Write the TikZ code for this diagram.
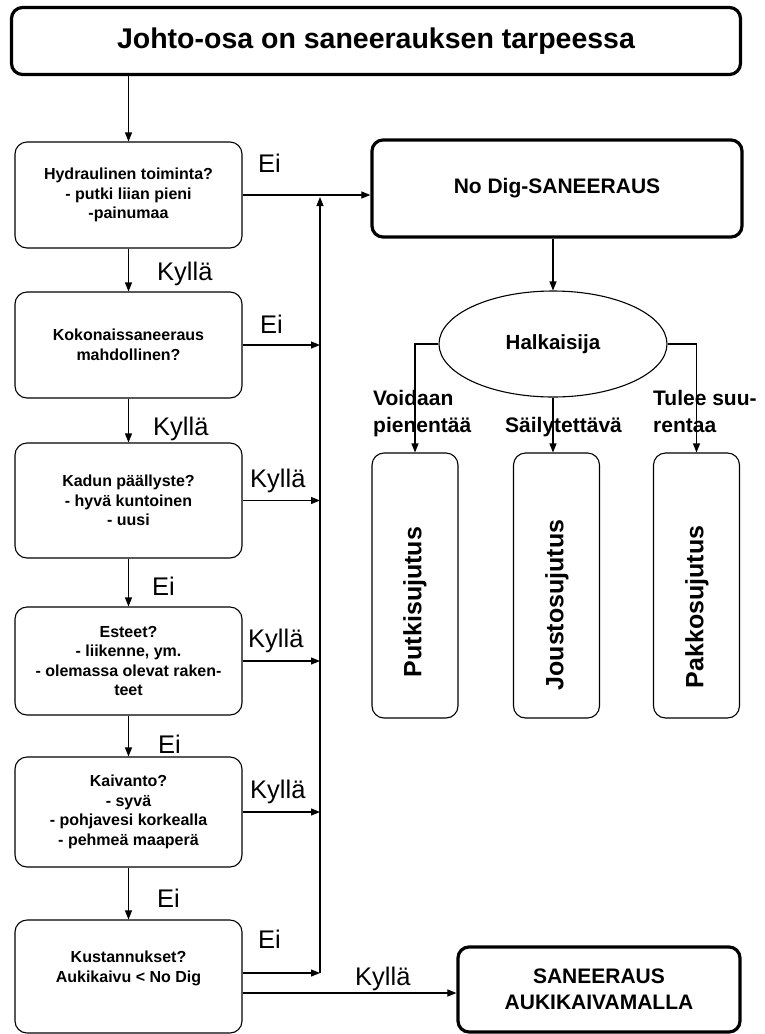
\documentclass[tikz,border=0pt]{standalone}
\usepackage{fontspec}
\setmainfont{Liberation Sans}
\usetikzlibrary{arrows.meta,shapes.geometric}

\begin{document}
\begin{tikzpicture}[x=1pt,y=-1pt,
  >={Triangle[length=9pt,width=7pt]},
  conn/.style={line width=1.1pt,->},
  qbox/.style={draw,line width=1.1pt,rounded corners=12pt,minimum width=227pt,
    align=center,inner sep=0pt,font=\fontsize{16}{19.5}\selectfont\bfseries},
  mainbox/.style={draw,line width=3.2pt,rounded corners=11pt,align=center,
    inner sep=0pt,font=\fontsize{21}{26}\selectfont\bfseries},
  tallbox/.style={draw,line width=1.1pt,rounded corners=12pt,
    minimum width=86pt,minimum height=265pt},
  ylab/.style={anchor=base west,inner sep=0pt,font=\fontsize{25.5}{30}\selectfont},
  blab/.style={anchor=base west,inner sep=0pt,font=\fontsize{21}{27}\selectfont\bfseries},
  vlab/.style={rotate=90,inner sep=0pt,font=\fontsize{25}{30}\selectfont\bfseries}
]
\useasboundingbox (0,0) rectangle (764,1034);

% top box
\node[mainbox,minimum width=729pt,minimum height=67pt,
  font=\fontsize{28.5}{34}\selectfont\bfseries] (title) at (376,41)
  {Johto-osa on saneerauksen tarpeessa};

% decision column
\node[qbox,minimum height=106pt] (b1) at (128.5,195)
  {Hydraulinen toiminta?\\- putki liian pieni\\-painumaa};
\node[qbox,minimum height=106pt] (b2) at (128.5,345)
  {Kokonaissaneeraus\\mahdollinen?};
\node[qbox,minimum height=115pt] (b3) at (128.5,500.5)
  {Kadun päällyste?\\- hyvä kuntoinen\\- uusi};
\node[qbox,minimum height=108pt] (b4) at (128.5,661)
  {Esteet?\\- liikenne, ym.\\- olemassa olevat raken-\\teet};
\node[qbox,minimum height=110pt] (b5) at (128.5,812)
  {Kaivanto?\\- syvä\\- pohjavesi korkealla\\- pehmeä maaperä};
\node[qbox,minimum height=113pt] (b6) at (128.5,976.5)
  {Kustannukset?\\Aukikaivu < No Dig\\[0pt]~};

% result boxes
\node[mainbox,minimum width=370pt,minimum height=97pt] (nodig) at (557,188.5)
  {No Dig-SANEERAUS};
\node[mainbox,minimum width=282pt,minimum height=85pt] (auki) at (599,989.5)
  {SANEERAUS\\AUKIKAIVAMALLA};

% diameter choice
\node[ellipse,draw,line width=1.1pt,minimum width=228pt,minimum height=106pt,
  inner sep=0pt,font=\fontsize{20.5}{24}\selectfont\bfseries] (halk) at (553,344)
  {Halkaisija};

\node[tallbox] (tA) at (415,585.5) {};
\node[tallbox] (tB) at (556.5,585.5) {};
\node[tallbox] (tC) at (696.5,585.5) {};
\node[vlab] (vA) at (415,602) {Putkisujutus};
\node[vlab] (vB) at (557,605) {Joustosujutus};
\node[vlab] (vC) at (697,607) {Pakkosujutus};

% collector line
\coordinate (busx) at (320,0);
\coordinate (e6) at ([yshift=3.5pt]b6.east);
\coordinate (k6) at ([yshift=-16.5pt]b6.east);

% connectors
\draw[conn] (b1.north |- title.south) -- (b1.north);
\draw[conn] (b1.south) -- (b2.north);
\draw[conn] (b2.south) -- (b3.north);
\draw[conn] (b3.south) -- (b4.north);
\draw[conn] (b4.south) -- (b5.north);
\draw[conn] (b5.south) -- (b6.north);

\draw[conn] (b1.east) -- (b1.east -| nodig.west);
\draw[conn] (b2.east) -- (b2.east -| busx);
\draw[conn] (b3.east) -- (b3.east -| busx);
\draw[conn] (b4.east) -- (b4.east -| busx);
\draw[conn] (b5.east) -- (b5.east -| busx);
\draw[conn] (e6) -- (e6 -| busx);
\draw[conn] (e6 -| busx) -- ([yshift=-2pt]busx |- b1.east);
\draw[conn] (k6) -- (k6 -| auki.west);

\draw[conn] (halk.north |- nodig.south) -- (halk.north);
\draw[conn] (halk.west) -| (tA.north);
\draw[conn] (halk.south) -- (halk.south |- tB.north);
\draw[conn] (halk.east) -| (tC.north);

% branch labels, left column
\node[ylab] (l1) at (157,280) {Kyllä};
\node[ylab] (l2) at (153,435) {Kyllä};
\node[ylab] (l3) at (152,595) {Ei};
\node[ylab] (l4) at (158,753) {Ei};
\node[ylab] (l5) at (157,907) {Ei};

% branch labels, towards the collector
\node[ylab] (r1) at (258,172) {Ei};
\node[ylab] (r2) at (260,333) {Ei};
\node[ylab] (r3) at (250,487) {Kyllä};
\node[ylab] (r4) at (248,647) {Kyllä};
\node[ylab] (r5) at (250,798) {Kyllä};
\node[ylab] (r6) at (258,948) {Ei};
\node[ylab] (r7) at (355,985) {Kyllä};

% diameter labels
\node[blab] (d1) at (373,405) {Voidaan};
\node[blab] (d2) at (373,432) {pienentää};
\node[blab] (d3) at (505,432) {Säilytettävä};
\node[blab] (d4) at (653,405) {Tulee suu-};
\node[blab] (d5) at (653,432) {rentaa};
\end{tikzpicture}
\end{document}
